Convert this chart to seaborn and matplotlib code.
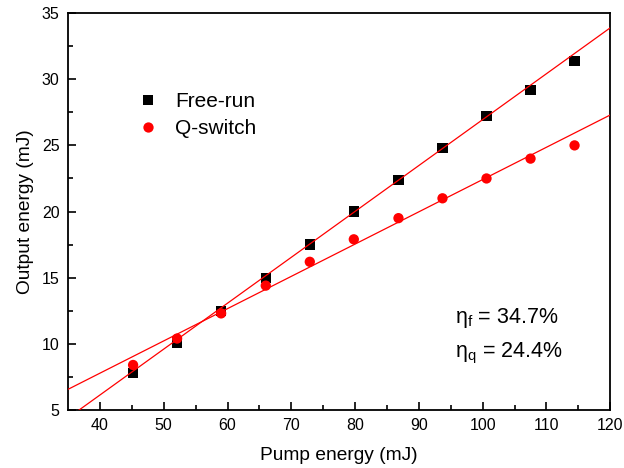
import numpy as np
import pandas as pd
import matplotlib
matplotlib.use("Agg")
import matplotlib.pyplot as plt
import seaborn as sns

# Data
pump = [45.2, 52.1, 59.0, 66.0, 72.9, 79.8, 86.8, 93.7, 100.6, 107.5, 114.4]
free_run = [7.8, 10.1, 12.5, 15.0, 17.5, 20.0, 22.4, 24.8, 27.2, 29.2, 31.4]
q_switch = [8.4, 10.4, 12.3, 14.4, 16.2, 17.9, 19.5, 21.0, 22.5, 24.0, 25.0]
series_names = ["Free-run", "Q-switch"]
# linear fit parameters (slope, intercept)
fit_free = (0.347, -7.75)
fit_q = (0.244, -1.98)
x_ticks = [40, 50, 60, 70, 80, 90, 100, 110, 120]
y_ticks = [5, 10, 15, 20, 25, 30, 35]

sns.set_style("ticks")
plt.rcParams["font.family"] = ["Liberation Sans", "DejaVu Sans"]
plt.rcParams["mathtext.fontset"] = "custom"
plt.rcParams["mathtext.rm"] = "Liberation Sans"
plt.rcParams["mathtext.it"] = "Liberation Sans"
plt.rcParams["text.color"] = "black"
plt.rcParams["axes.labelcolor"] = "black"
plt.rcParams["xtick.color"] = "black"
plt.rcParams["ytick.color"] = "black"
plt.rcParams["axes.edgecolor"] = "black"

df = pd.DataFrame({
    "pump": pump * 2,
    "out": free_run + q_switch,
    "series": [series_names[0]] * len(pump) + [series_names[1]] * len(pump),
})

fig = plt.figure(figsize=(6.24, 4.68), dpi=100)
ax = fig.add_axes([0.109, 0.124, 0.869, 0.848])

sns.scatterplot(data=df, x="pump", y="out", hue="series", style="series",
                palette={"Free-run": "black", "Q-switch": "red"},
                markers={"Free-run": "s", "Q-switch": "o"},
                s=55, edgecolor="none", linewidth=0, ax=ax, zorder=3)

xl = np.array([35, 120])
for (m, b) in (fit_free, fit_q):
    ax.plot(xl, m * xl + b, color="red", lw=0.9, zorder=4)

ax.set_xlim(35, 120)
ax.set_ylim(5, 35)
ax.set_xticks(x_ticks)
ax.set_yticks(y_ticks)
ax.set_xticks(np.arange(45, 120, 10), minor=True)
ax.set_yticks(np.arange(7.5, 35, 5), minor=True)
ax.tick_params(which="both", direction="in", labelsize=11.5, width=1.2,
               top=False, right=False, pad=6)
ax.tick_params(which="major", length=6)
ax.tick_params(which="minor", length=3.5)
for sp in ax.spines.values():
    sp.set_linewidth(1.3)
    sp.set_visible(True)

ax.set_xlabel("Pump energy (mJ)", fontsize=13.8, labelpad=10)
ax.set_ylabel("Output energy (mJ)", fontsize=13.8, labelpad=6)

leg = ax.legend(loc="upper left", bbox_to_anchor=(0.113, 0.822), frameon=False,
                fontsize=15, handletextpad=0.8, handlelength=1.0,
                labelspacing=0.4, borderaxespad=0)

ax.text(0.714, 0.22, "η$_\\mathrm{f}$ = 34.7%", transform=ax.transAxes,
        fontsize=15.5, va="baseline")
ax.text(0.714, 0.133, "η$_\\mathrm{q}$ = 24.4%", transform=ax.transAxes,
        fontsize=15.5, va="baseline")

fig.savefig("out.png", dpi=100)
